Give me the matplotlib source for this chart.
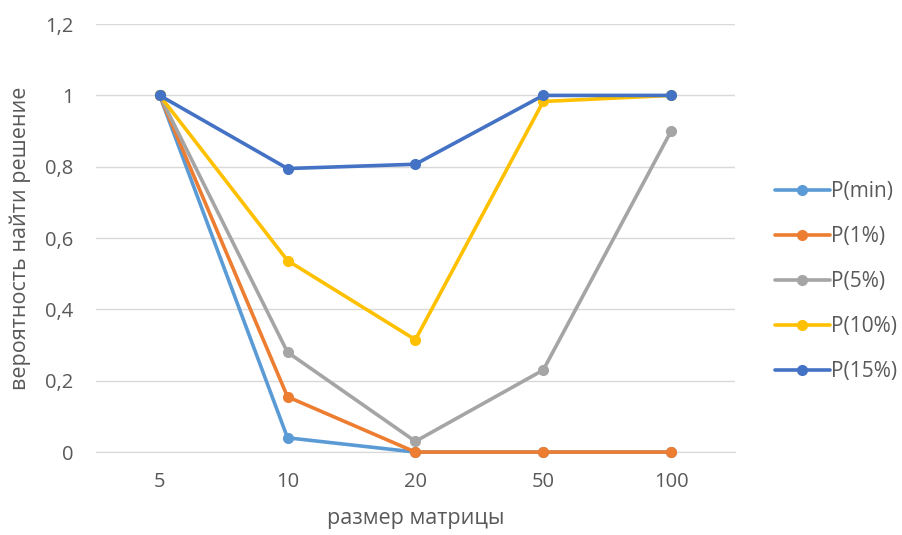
import matplotlib.pyplot as plt

# ----------------------------
# Данные
# ----------------------------
sizes = ["5", "10", "20", "50", "100"]
p_min = [1.0, 0.04, 0.0, 0.0, 0.0]
p_1 = [1.0, 0.155, 0.0, 0.0, 0.0]
p_5 = [1.0, 0.28, 0.03, 0.23, 0.90]
p_10 = [1.0, 0.537, 0.315, 0.983, 1.0]
p_15 = [1.0, 0.795, 0.807, 1.0, 1.0]

series = [
    ("P(min)", p_min, "#5B9BD5"),
    ("P(1%)", p_1, "#ED7D31"),
    ("P(5%)", p_5, "#A5A5A5"),
    ("P(10%)", p_10, "#FFC000"),
    ("P(15%)", p_15, "#4472C4"),
]

yticks = [0, 0.2, 0.4, 0.6, 0.8, 1.0, 1.2]
ytick_labels = ["0", "0,2", "0,4", "0,6", "0,8", "1", "1,2"]

plt.rcParams["font.family"] = ["Open Sans", "DejaVu Sans"]
text_color = "#595959"
fs_tick = 14.5
fs_lab = 15.5

fig = plt.figure(figsize=(9.03, 5.35), dpi=100)
ax = fig.add_axes([0.106, 0.155, 0.708, 0.80])

x = list(range(len(sizes)))
# P(min) рисуем первой, чтобы P(1%) лежала сверху
for label, vals, color in series:
    ax.plot(x, vals, color=color, lw=2.6, marker="o", markersize=7,
            label=label, solid_capstyle="round", zorder=3, clip_on=False)

ax.set_xlim(-0.5, len(sizes) - 0.5)
ax.set_ylim(0, 1.2)
ax.set_xticks(x)
ax.set_xticklabels(sizes)
ax.set_yticks(yticks)
ax.set_yticklabels(ytick_labels)
ax.grid(axis="y", color="#D9D9D9", lw=1)
ax.set_axisbelow(True)
for s in ["top", "right", "left"]:
    ax.spines[s].set_visible(False)
ax.spines["bottom"].set_color("#D9D9D9")
ax.tick_params(axis="y", length=0, labelsize=fs_tick, colors=text_color, pad=16)
ax.tick_params(axis="x", length=0, labelsize=fs_tick, colors=text_color, pad=14)

ax.set_xlabel("размер матрицы", fontsize=fs_lab, color=text_color, labelpad=12)
ax.set_ylabel("вероятность найти решение", fontsize=fs_lab, color=text_color, labelpad=10)

fig.legend(loc="center left", bbox_to_anchor=(0.858, 0.474), frameon=False,
           fontsize=15, labelcolor=text_color, labelspacing=1.15,
           handlelength=2.64, handletextpad=0.05, borderpad=0, borderaxespad=0)

fig.savefig("out.png", dpi=100)
